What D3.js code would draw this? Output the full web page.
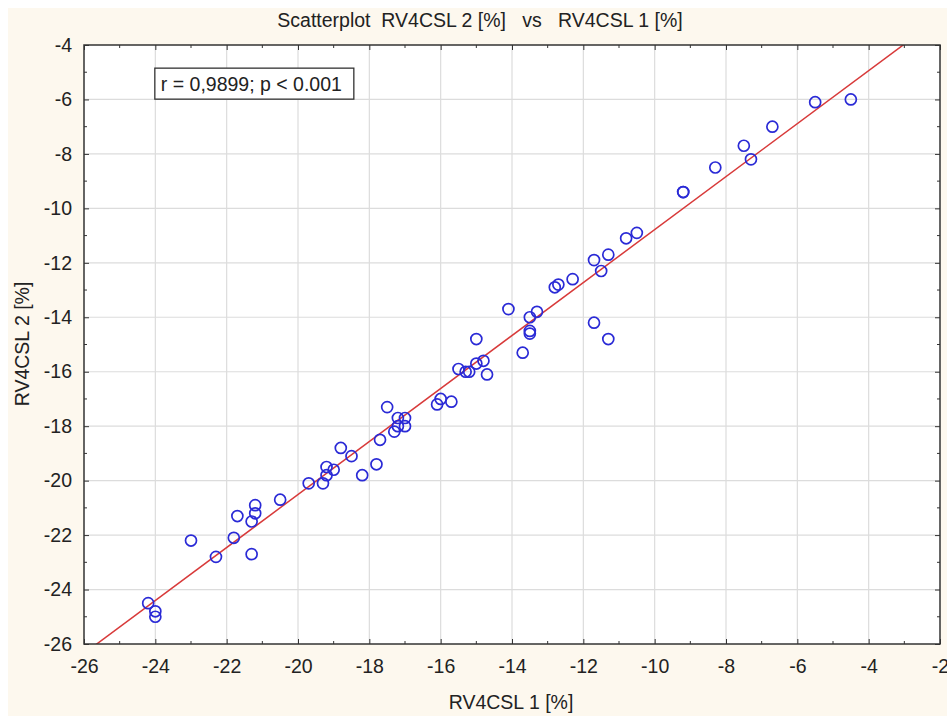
<!DOCTYPE html>
<html>
<head>
<meta charset="utf-8">
<script src="https://cdn.jsdelivr.net/npm/d3@7"></script>
<style>
  body { margin: 0; background: #ffffff; }
  text { font-family: "Liberation Sans", Arial, sans-serif; fill: #222; }
</style>
</head>
<body>
<div id="chart"></div>
<script>
// RV4CSL 1 [%] (x) vs RV4CSL 2 [%] (y)
const rv1 = [
  -24.2, -24.0, -24.0, -23.0, -22.3, -21.8, -21.7, -21.3, -21.3, -21.2,
  -21.2, -20.5, -19.7, -19.3, -19.2, -19.2, -19.0, -18.8, -18.5, -18.2,
  -17.8, -17.7, -17.5, -17.3, -17.2, -17.2, -17.0, -17.0, -16.1, -16.0,
  -15.7, -15.5, -15.3, -15.2, -15.0, -15.0, -14.8, -14.7, -14.1, -13.7,
  -13.5, -13.5, -13.5, -13.3, -12.8, -12.7, -12.3, -11.7, -11.5, -11.3,
  -11.7, -11.3, -10.8, -10.5, -9.2, -9.2, -8.3, -7.5, -7.3, -6.7,
  -5.5, -4.5
];
const rv2 = [
  -24.5, -24.8, -25.0, -22.2, -22.8, -22.1, -21.3, -21.5, -22.7, -20.9,
  -21.2, -20.7, -20.1, -20.1, -19.5, -19.8, -19.6, -18.8, -19.1, -19.8,
  -19.4, -18.5, -17.3, -18.2, -17.7, -18.0, -17.7, -18.0, -17.2, -17.0,
  -17.1, -15.9, -16.0, -16.0, -15.7, -14.8, -15.6, -16.1, -13.7, -15.3,
  -14.0, -14.5, -14.6, -13.8, -12.9, -12.8, -12.6, -11.9, -12.3, -11.7,
  -14.2, -14.8, -11.1, -10.9, -9.4, -9.4, -8.5, -7.7, -8.2, -7.0,
  -6.1, -6.0
];
const fitIntercept = -1.05;
const fitSlope = 0.973;
const xDomain = [-26, -2];
const yDomain = [-26, -4];
const majorTicks = d3.range(-26, -1, 2);
const minorTicks = d3.range(-25, -2, 2);
const title = "Scatterplot  RV4CSL 2 [%]   vs   RV4CSL 1 [%]";
const xLabel = "RV4CSL 1 [%]";
const yLabel = "RV4CSL 2 [%]";
const note = "r = 0,9899; p < 0.001";

const W = 947, H = 717;
const margin = { top: 45, right: 7, bottom: 73, left: 84 };
const width = W - margin.left - margin.right;
const height = H - margin.top - margin.bottom;
const fs = 19.5;

const svg = d3.select("#chart").append("svg")
  .attr("width", W).attr("height", H);

svg.append("rect").attr("x", 8).attr("y", 8)
  .attr("width", W - 8).attr("height", H - 9)
  .attr("fill", "#fdf8ee");

const g = svg.append("g")
  .attr("transform", `translate(${margin.left},${margin.top})`);

const x = d3.scaleLinear().domain(xDomain).range([0, width]);
const y = d3.scaleLinear().domain(yDomain).range([height, 0]);

g.append("rect").attr("width", width).attr("height", height).attr("fill", "#fff");

// grid
g.append("g").selectAll("line").data(majorTicks.slice(1, -1)).enter().append("line")
  .attr("x1", (d) => x(d)).attr("x2", (d) => x(d))
  .attr("y1", 0).attr("y2", height)
  .attr("stroke", "#dcdcdc").attr("stroke-width", 1.2);
g.append("g").selectAll("line").data(majorTicks.filter((d) => d > -26 && d < -4)).enter().append("line")
  .attr("y1", (d) => y(d)).attr("y2", (d) => y(d))
  .attr("x1", 0).attr("x2", width)
  .attr("stroke", "#dcdcdc").attr("stroke-width", 1.2);

// regression line
svg.append("clipPath").attr("id", "plotclip")
  .append("rect").attr("width", width).attr("height", height);
const fit = (v) => fitIntercept + fitSlope * v;
g.append("line")
  .attr("clip-path", "url(#plotclip)")
  .attr("x1", x(xDomain[0])).attr("y1", y(fit(xDomain[0])))
  .attr("x2", x(xDomain[1])).attr("y2", y(fit(xDomain[1])))
  .attr("stroke", "#d83a3a").attr("stroke-width", 1.5);

// points
g.append("g").selectAll("circle").data(rv1).enter().append("circle")
  .attr("cx", (d) => x(d)).attr("cy", (d, i) => y(rv2[i]))
  .attr("r", 5.5)
  .attr("fill", "none").attr("stroke", "#2a2ad6").attr("stroke-width", 1.7);

// axes (ticks point inward)
const fmt = (d) => String(d);
const yTicks = majorTicks.filter((d) => d <= -4);
const yMinor = minorTicks.filter((d) => d < -4);
g.append("g").attr("transform", `translate(0,${height})`)
  .call(d3.axisBottom(x).tickValues(majorTicks).tickFormat(fmt).tickSizeInner(-5).tickSizeOuter(0).tickPadding(15))
  .call((a) => a.selectAll("text").attr("font-size", fs).attr("fill", "#222"));
g.append("g")
  .call(d3.axisLeft(y).tickValues(yTicks).tickFormat(fmt).tickSizeInner(-5).tickSizeOuter(0).tickPadding(12))
  .call((a) => a.selectAll("text").attr("font-size", fs).attr("fill", "#222"));
g.append("g")
  .call(d3.axisTop(x).tickValues(majorTicks).tickSizeInner(-5).tickSizeOuter(0).tickFormat(""));
g.append("g").attr("transform", `translate(${width},0)`)
  .call(d3.axisRight(y).tickValues(yTicks).tickSizeInner(-5).tickSizeOuter(0).tickFormat(""));

// minor ticks
const minorG = g.append("g").attr("stroke", "#333");
minorG.selectAll(".mb").data(minorTicks).enter().append("line")
  .attr("x1", (d) => x(d)).attr("x2", (d) => x(d)).attr("y1", height).attr("y2", height - 3);
minorG.selectAll(".mt").data(minorTicks).enter().append("line")
  .attr("x1", (d) => x(d)).attr("x2", (d) => x(d)).attr("y1", 0).attr("y2", 3);
minorG.selectAll(".ml").data(yMinor).enter().append("line")
  .attr("y1", (d) => y(d)).attr("y2", (d) => y(d)).attr("x1", 0).attr("x2", 3);
minorG.selectAll(".mr").data(yMinor).enter().append("line")
  .attr("y1", (d) => y(d)).attr("y2", (d) => y(d)).attr("x1", width).attr("x2", width - 3);

g.selectAll(".domain").remove();
g.append("rect").attr("width", width).attr("height", height)
  .attr("fill", "none").attr("stroke", "#333").attr("stroke-width", 1.5);
g.selectAll(".tick line").attr("stroke", "#333");

// note box
const nb = g.append("g").attr("transform", `translate(${x(-24) - 0.5},${y(-4.85)})`);
nb.append("rect").attr("width", 199).attr("height", 31)
  .attr("fill", "#fff").attr("stroke", "#333").attr("stroke-width", 1.3);
nb.append("text").attr("x", 6).attr("y", 23).attr("font-size", fs).text(note);

// titles
svg.append("text").attr("x", 480).attr("y", 27).attr("text-anchor", "middle")
  .attr("font-size", fs).style("white-space", "pre").text(title);
svg.append("text").attr("x", 511).attr("y", 709).attr("text-anchor", "middle")
  .attr("font-size", fs).text(xLabel);
svg.append("text").attr("transform", "translate(29,344) rotate(-90)")
  .attr("text-anchor", "middle").attr("font-size", fs).text(yLabel);
</script>
</body>
</html>
